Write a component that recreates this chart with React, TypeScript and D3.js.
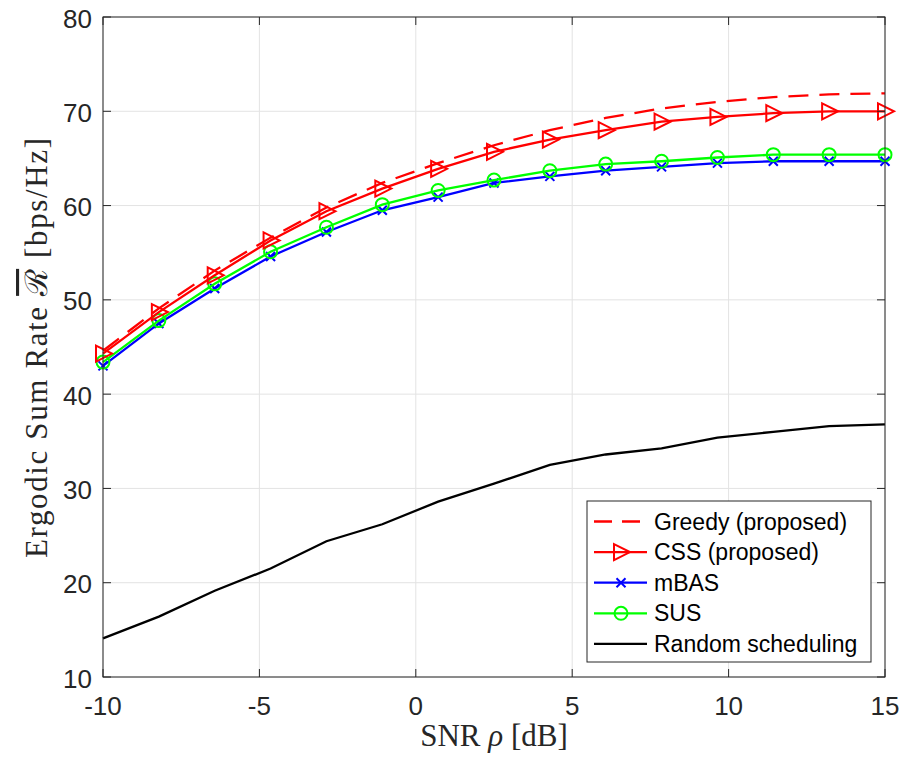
import React from "react";
import * as d3 from "d3";

const snr = [-10, -8.214, -6.429, -4.643, -2.857, -1.071, 0.714, 2.5, 4.286, 6.071, 7.857, 9.643, 11.429, 13.214, 15];
const greedy = [44.6, 49.1, 53.1, 56.6, 59.8, 62.4, 64.5, 66.4, 68.0, 69.3, 70.3, 71.0, 71.5, 71.8, 71.9];
const css = [44.3, 48.7, 52.6, 56.3, 59.4, 61.8, 63.9, 65.7, 67.0, 68.0, 68.9, 69.4, 69.8, 70.0, 70.0];
const mbas = [43.0, 47.5, 51.2, 54.6, 57.2, 59.5, 60.9, 62.4, 63.1, 63.7, 64.1, 64.5, 64.7, 64.7, 64.7];
const sus = [43.4, 47.8, 51.7, 55.1, 57.7, 60.1, 61.6, 62.7, 63.7, 64.4, 64.7, 65.1, 65.4, 65.4, 65.4];
const randomSched = [14.1, 16.4, 19.15, 21.5, 24.4, 26.2, 28.6, 30.5, 32.5, 33.6, 34.25, 35.4, 36.0, 36.6, 36.8];
const xTicks = [-10, -5, 0, 5, 10, 15];
const yTicks = [10, 20, 30, 40, 50, 60, 70, 80];
const legendLabels = ["Greedy (proposed)", "CSS (proposed)", "mBAS", "SUS", "Random scheduling"];

const W = 915, H = 759;
const L = 103, R = 885, T = 17, B = 677;
const AX = "#262626";
const GRID = "#e3e3e3";
const FONT = "'Liberation Sans', Arial, Helvetica, sans-serif";
const SERIF = "'Liberation Serif', 'DejaVu Serif', serif";

type Marker = "none" | "tri" | "x" | "o";

function MarkerShape({ kind, cx, cy, color }: { kind: Marker; cx: number; cy: number; color: string }) {
  if (kind === "tri") {
    const h = 8;
    return <path d={`M${cx - 7},${cy - h} L${cx + 9},${cy} L${cx - 7},${cy + h} Z`} fill="none" stroke={color} strokeWidth={2} />;
  }
  if (kind === "o") {
    return <circle cx={cx} cy={cy} r={6.5} fill="none" stroke={color} strokeWidth={2} />;
  }
  if (kind === "x") {
    const s = 4.5;
    return <path d={`M${cx - s},${cy - s} L${cx + s},${cy + s} M${cx - s},${cy + s} L${cx + s},${cy - s}`} stroke={color} strokeWidth={2} />;
  }
  return null;
}

export default function App() {
  const x = d3.scaleLinear().domain([-10, 15]).range([L, R]);
  const y = d3.scaleLinear().domain([10, 80]).range([B, T]);
  const line = d3.line<number>().x((_, i) => x(snr[i])).y((v) => y(v));

  const series: { data: number[]; color: string; dash?: string; marker: Marker }[] = [
    { data: randomSched, color: "#000000", marker: "none" },
    { data: mbas, color: "#0000ff", marker: "x" },
    { data: sus, color: "#00ff00", marker: "o" },
    { data: greedy, color: "#ff0000", dash: "20,11", marker: "none" },
    { data: css, color: "#ff0000", marker: "tri" },
  ];
  const legendSeries = [series[3], series[4], series[1], series[2], series[0]];

  const lgX = 587, lgY = 501, lgW = 284, lgH = 161;
  const rowH = 30.6;

  return (
    <svg width={W} height={H} style={{ position: "absolute", left: 0, top: 0, background: "#fff" }}>
      <rect x={0} y={0} width={W} height={H} fill="#fff" />
      {/* grid */}
      {xTicks.map((t) => (
        <line key={"gx" + t} x1={x(t)} x2={x(t)} y1={T} y2={B} stroke={GRID} strokeWidth={1} />
      ))}
      {yTicks.map((t) => (
        <line key={"gy" + t} x1={L} x2={R} y1={y(t)} y2={y(t)} stroke={GRID} strokeWidth={1} />
      ))}
      {/* series */}
      {series.map((s, k) => (
        <g key={"s" + k}>
          <path d={line(s.data) || ""} fill="none" stroke={s.color} strokeWidth={2.3} strokeDasharray={s.dash} />
          {s.marker !== "none" &&
            s.data.map((v, i) => <MarkerShape key={i} kind={s.marker} cx={x(snr[i])} cy={y(v)} color={s.color} />)}
        </g>
      ))}
      {/* axes box */}
      <rect x={L} y={T} width={R - L} height={B - T} fill="none" stroke={AX} strokeWidth={1} />
      {xTicks.map((t) => (
        <g key={"tx" + t}>
          <line x1={x(t)} x2={x(t)} y1={B} y2={B - 8} stroke={AX} />
          <line x1={x(t)} x2={x(t)} y1={T} y2={T + 8} stroke={AX} />
          <text x={x(t)} y={715} textAnchor="middle" fontFamily={FONT} fontSize={26} fill={AX}>
            {t}
          </text>
        </g>
      ))}
      {yTicks.map((t) => (
        <g key={"ty" + t}>
          <line x1={L} x2={L + 8} y1={y(t)} y2={y(t)} stroke={AX} />
          <line x1={R} x2={R - 8} y1={y(t)} y2={y(t)} stroke={AX} />
          <text x={92} y={y(t) + 10.5} textAnchor="end" fontFamily={FONT} fontSize={26} fill={AX}>
            {t}
          </text>
        </g>
      ))}
      {/* axis labels */}
      <text x={(L + R) / 2} y={746} textAnchor="middle" fontFamily={SERIF} fontSize={31} fill={AX}>
        SNR <tspan fontStyle="italic">ρ</tspan> [dB]
      </text>
      <text
        transform={`translate(47,${(T + B) / 2 + 1}) rotate(-90)`}
        textAnchor="middle"
        fontFamily={SERIF}
        fontSize={31}
        fill={AX}
        textLength={420}
        lengthAdjust="spacing"
      >
        Ergodic Sum Rate <tspan textDecoration="overline" style={{ textDecoration: "overline" }}>ℛ</tspan> [bps/Hz]
      </text>
      {/* legend */}
      <rect x={lgX} y={lgY} width={lgW} height={lgH} fill="#fff" stroke={AX} strokeWidth={1} />
      {legendSeries.map((s, i) => {
        const cy = lgY + 20.5 + i * rowH;
        return (
          <g key={"lg" + i}>
            <line x1={594} x2={647} y1={cy} y2={cy} stroke={s.color} strokeWidth={2.3} strokeDasharray={s.dash ? "18,10" : undefined} />
            {s.marker !== "none" && <MarkerShape kind={s.marker} cx={621} cy={cy} color={s.color} />}
            <text x={654} y={cy + 8} fontFamily={FONT} fontSize={23} fill="#000">
              {legendLabels[i]}
            </text>
          </g>
        );
      })}
    </svg>
  );
}
